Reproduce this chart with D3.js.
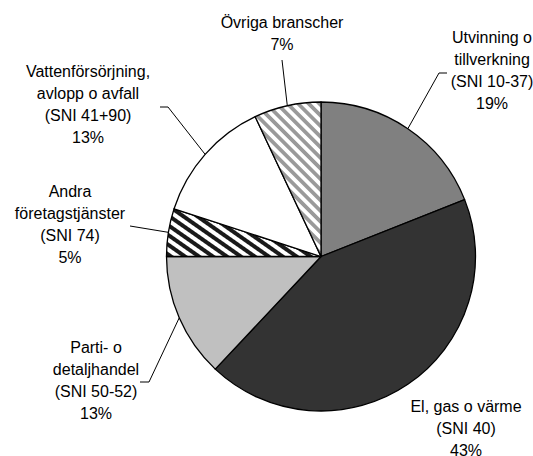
<!DOCTYPE html>
<html>
<head>
<meta charset="utf-8">
<script src="https://cdn.jsdelivr.net/npm/d3@7"></script>
<style>
  html, body { margin: 0; padding: 0; background: #fff; }
</style>
</head>
<body>
<svg id="chart"></svg>
<script>
// data, clockwise from 12 o'clock
const names = [
  ["Utvinning o", "tillverkning", "(SNI 10-37)"],
  ["El, gas o värme", "(SNI 40)"],
  ["Parti- o", "detaljhandel", "(SNI 50-52)"],
  ["Andra", "företagstjänster", "(SNI 74)"],
  ["Vattenförsörjning,", "avlopp o avfall", "(SNI 41+90)"],
  ["Övriga branscher"]
];
const shares = [19, 43, 13, 5, 13, 7];

// label placement (layout only)
const labelPos = [
  { x: 492, y: 43, leader: [[447, 73], [439, 73]] },
  { x: 466, y: 412, leader: null },
  { x: 96, y: 353, leader: [[140, 382], [149, 382]] },
  { x: 70, y: 197, leader: [[130, 226]] },
  { x: 88, y: 77, leader: [[160, 107], [168, 107]] },
  { x: 282, y: 28, leader: [[282, 60]] }
];

const fills = ["#808080", "#333333", "#c0c0c0", "url(#stripeDark)", "#ffffff", "url(#stripeLight)"];

const width = 533, height = 456;
const cx = 321, cy = 256.5, radius = 154.5;
const lineStep = 22;

const svg = d3.select("#chart")
  .attr("width", width)
  .attr("height", height)
  .style("font-family", "'Liberation Sans', Arial, sans-serif")
  .style("font-size", "16px");

const defs = svg.append("defs");

function stripes(id, color, angle, size) {
  const p = defs.append("pattern")
    .attr("id", id)
    .attr("patternUnits", "userSpaceOnUse")
    .attr("width", size)
    .attr("height", size)
    .attr("patternTransform", `rotate(${angle})`);
  p.append("rect").attr("width", size).attr("height", size).attr("fill", "#fff");
  p.append("rect").attr("width", size / 2).attr("height", size).attr("fill", color);
}
stripes("stripeDark", "#1a1a1a", -55, 8);
stripes("stripeLight", "#9a9a9a", -45, 7.5);

const pie = d3.pie().sort(null).value(d => d)(shares);
const arc = d3.arc().innerRadius(0).outerRadius(radius);

const g = svg.append("g").attr("transform", `translate(${cx},${cy})`);

g.selectAll("path")
  .data(pie)
  .join("path")
  .attr("d", arc)
  .attr("fill", (d, i) => fills[i])
  .attr("stroke", "#000")
  .attr("stroke-width", 1.3)
  .attr("stroke-linejoin", "round");

// leader lines end at the slice's middle angle on the rim
pie.forEach((d, i) => {
  const lp = labelPos[i];
  if (!lp.leader) return;
  const a = (d.startAngle + d.endAngle) / 2;
  const end = [cx + radius * Math.sin(a), cy - radius * Math.cos(a)];
  const pts = lp.leader.concat([end]);
  svg.append("path")
    .attr("d", d3.line()(pts))
    .attr("fill", "none")
    .attr("stroke", "#000")
    .attr("stroke-width", 1);
});

// labels
pie.forEach((d, i) => {
  const lp = labelPos[i];
  const lines = names[i].concat([shares[i] + "%"]);
  const t = svg.append("text")
    .attr("text-anchor", "middle")
    .attr("fill", "#000");
  lines.forEach((s, k) => {
    t.append("tspan")
      .attr("x", lp.x)
      .attr("y", lp.y + k * lineStep)
      .text(s);
  });
});
</script>
</body>
</html>
